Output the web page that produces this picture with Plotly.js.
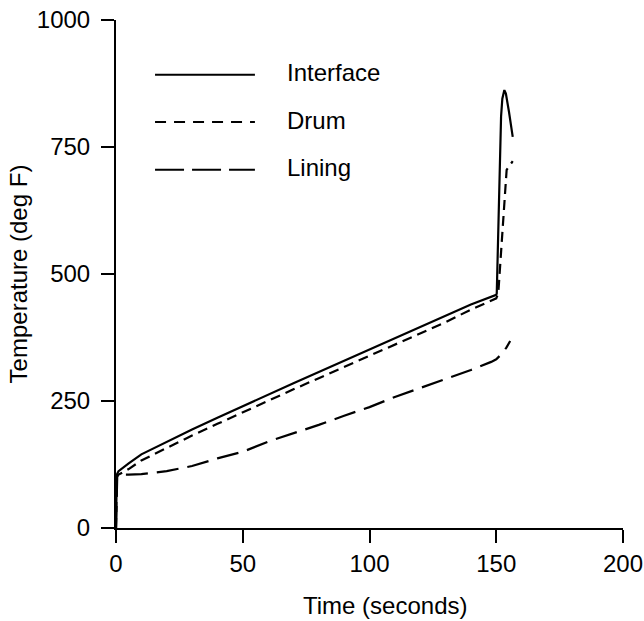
<!DOCTYPE html>
<html>
<head>
<meta charset="utf-8">
<script src="https://cdn.plot.ly/plotly-3.0.1.min.js"></script>
<style>
  html, body { margin: 0; padding: 0; background: #fff; }
  #chart { width: 644px; height: 621px; }
</style>
</head>
<body>
<div id="chart"></div>
<script>
// Series names
const seriesNames = ["Interface", "Drum", "Lining"];

// Interface temperature (deg F) vs time (s)
const interfaceTime = [0, 0.3, 1, 3, 5, 10, 20, 30, 40, 50, 60, 70, 80, 90, 100, 110, 120, 130, 140, 150, 150.2, 151.9, 152.4, 153.2, 153.8, 155, 156.5];
const interfaceTemp = [0, 105, 112, 120, 127, 145, 170, 194, 217, 240, 263, 285, 307, 329, 351, 373, 395, 418, 440, 459, 462, 810, 845, 862, 855, 820, 770];

// Drum temperature
const drumTime = [0, 0.3, 1, 5, 10, 20, 30, 40, 50, 60, 70, 80, 90, 100, 110, 120, 130, 140, 150, 150.8, 154.1, 156.5];
const drumTemp = [0, 100, 105, 116, 133, 158, 182, 205, 228, 251, 273, 295, 317, 339, 361, 383, 405, 430, 452, 462, 705, 722];

// Lining temperature
const liningTime = [0, 0.5, 5, 10, 20, 30, 40, 50, 60, 70, 80, 90, 100, 110, 120, 130, 140, 148, 150, 152, 154, 155.5];
const liningTemp = [0, 105, 105, 106, 112, 122, 137, 150, 170, 186, 203, 221, 238, 258, 276, 294, 311, 327, 332, 342, 355, 368];

// Axis ticks
const xTicks = [0, 50, 100, 150, 200];
const yTicks = [0, 250, 500, 750, 1000];

const FONT = "'Liberation Sans', Arial, Helvetica, sans-serif";
const dashes = ["solid", "10px,6px", "22px,9px"];
const legendDashes = ["solid", "11px,8px", "29px,8px"];

const traces = [
  {x: interfaceTime, y: interfaceTemp, name: seriesNames[0], mode: "lines",
   line: {color: "#000", width: 2.2, dash: dashes[0]}},
  {x: drumTime, y: drumTemp, name: seriesNames[1], mode: "lines",
   line: {color: "#000", width: 2.2, dash: dashes[1]}},
  {x: liningTime, y: liningTemp, name: seriesNames[2], mode: "lines",
   line: {color: "#000", width: 2.2, dash: dashes[2]}}
];

// Custom legend (long line samples)
const legendRowsY = [0.892, 0.799, 0.705];
const shapes = [];
const annotations = [];
seriesNames.forEach((nm, i) => {
  shapes.push({type: "line", xref: "paper", yref: "paper",
    x0: 0.077, x1: 0.274, y0: legendRowsY[i], y1: legendRowsY[i],
    line: {color: "#000", width: 2, dash: legendDashes[i]}});
  annotations.push({xref: "paper", yref: "paper", x: 0.333, y: legendRowsY[i],
    xanchor: "left", yanchor: "middle", yshift: 2, showarrow: false, text: nm,
    font: {family: FONT, size: 24, color: "#000"}});
});
annotations.push({xref: "paper", yref: "paper", x: 0.53, y: -0.153,
  xanchor: "center", yanchor: "middle", showarrow: false, text: "Time (seconds)",
  font: {family: FONT, size: 24, color: "#000"}});

const layout = {
  width: 644, height: 621,
  margin: {l: 116, r: 21, t: 20, b: 93},
  paper_bgcolor: "#fff", plot_bgcolor: "#fff",
  showlegend: false,
  font: {family: FONT, size: 24, color: "#000"},
  xaxis: {
    range: [0, 200], tickvals: xTicks, ticktext: xTicks.map(String),
    showgrid: false, zeroline: false, showline: true, linecolor: "#000", linewidth: 2,
    ticks: "outside", ticklen: 13, tickwidth: 2, tickcolor: "#000",
    tickfont: {family: FONT, size: 24, color: "#000"}, fixedrange: true
  },
  yaxis: {
    range: [0, 1000], tickvals: yTicks, ticktext: yTicks.map(String),
    showgrid: false, zeroline: false, showline: true, linecolor: "#000", linewidth: 2,
    ticks: "outside", ticklen: 13, tickwidth: 2, tickcolor: "#000",
    ticklabelstandoff: 6,
    tickfont: {family: FONT, size: 24, color: "#000"},
    title: {text: "Temperature (deg F)", font: {family: FONT, size: 24, color: "#000"}, standoff: 2},
    automargin: false, fixedrange: true
  },
  shapes: shapes,
  annotations: annotations
};

Plotly.newPlot("chart", traces, layout, {displayModeBar: false, staticPlot: true});
</script>
</body>
</html>
